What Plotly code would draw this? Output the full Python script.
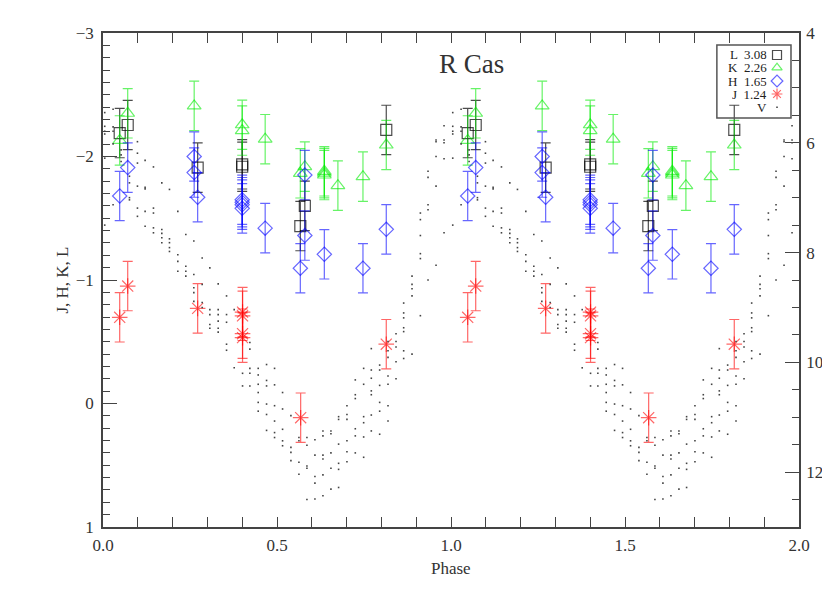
import plotly.graph_objects as go

# infrared photometry (mag), phase in [0, 1); error bars are +-0.2 mag
ERR = 0.2

L_phase = [0.048, 0.071, 0.272, 0.400, 0.400, 0.567, 0.580, 0.814]
L_mag = [-2.19, -2.255, -1.91, -1.937, -1.917, -1.437, -1.60, -2.215]

K_phase = [0.048, 0.071, 0.262, 0.400, 0.400, 0.466, 0.567, 0.580, 0.636, 0.636, 0.636, 0.675, 0.747, 0.814]
K_mag = [-2.13, -2.35, -2.41, -2.257, -2.21, -2.14, -1.864, -1.918, -1.88, -1.865, -1.85, -1.764, -1.837, -2.093]

H_phase = [0.048, 0.071, 0.262, 0.262, 0.272, 0.400, 0.400, 0.400, 0.400, 0.466, 0.567, 0.580, 0.580,
           0.636, 0.747, 0.814]
H_mag = [-1.68, -1.91, -2.00, -1.87, -1.67, -1.65, -1.63, -1.61, -1.58, -1.42, -1.095, -1.85, -1.36,
         -1.208, -1.095, -1.41]

J_phase = [0.048, 0.071, 0.272, 0.401, 0.401, 0.401, 0.401, 0.568, 0.814]
J_mag = [-0.698, -0.951, -0.77, -0.74, -0.71, -0.565, -0.533, 0.115, -0.48]

# visual light curve (V mag), read column by column
V_cols = [0.005, 0.029, 0.052, 0.076, 0.099, 0.121, 0.145, 0.169, 0.191, 0.215, 0.238, 0.261, 0.285,
          0.307, 0.331, 0.355, 0.377, 0.401, 0.422, 0.446, 0.470, 0.493, 0.516, 0.540, 0.563, 0.586,
          0.609, 0.632, 0.655, 0.677, 0.701, 0.725, 0.749, 0.771, 0.795, 0.819, 0.842, 0.864, 0.888,
          0.912, 0.934, 0.957, 0.980]
V_vals = [
    [5.45, 5.70, 5.79, 5.84, 6.28, 7.50],
    [5.39, 5.71, 5.79, 6.02, 7.13],
    [6.13, 6.22, 6.34],
    [6.61, 6.73, 7.00, 7.04],
    [5.98, 6.19, 6.37, 6.79, 7.19, 7.34],
    [6.32, 6.81, 6.84, 7.25, 7.52],
    [6.44, 7.19, 7.28, 7.55, 7.64],
    [6.73, 7.58, 7.65, 7.73, 7.82],
    [6.85, 7.75, 7.82, 7.91, 7.98],
    [7.25, 8.04, 8.16, 8.34],
    [7.67, 8.25, 8.34, 8.43],
    [7.79, 8.40, 8.64, 8.73, 8.89],
    [8.10, 8.58, 8.91, 9.00],
    [8.28, 9.04, 9.13, 9.31, 9.38],
    [8.57, 9.04, 9.13, 9.25, 9.38, 9.45],
    [8.79, 9.13, 9.27, 9.67, 9.78],
    [9.04, 10.10],
    [10.20, 10.43],
    [9.64, 9.76, 10.11, 10.20, 10.43],
    [10.11, 10.23, 10.40, 10.55, 10.73, 10.89],
    [10.04, 10.33, 10.43, 10.76, 10.95, 11.24],
    [10.11, 10.41, 10.79, 11.07, 11.28, 11.37],
    [10.55, 10.85, 11.22, 11.43, 11.52],
    [10.97, 11.55, 11.64, 11.79],
    [11.37, 11.43, 11.82, 12.04],
    [11.37, 11.51, 11.89, 11.93, 12.50],
    [11.41, 11.69, 12.08, 12.20, 12.49],
    [11.25, 11.34, 11.69, 11.76, 12.05, 12.43],
    [11.25, 11.30, 11.65, 11.93, 12.31],
    [10.99, 11.04, 11.49, 11.84, 11.95, 12.28],
    [10.79, 10.95, 11.04, 11.43, 11.63, 11.81],
    [10.32, 10.59, 10.66, 11.21, 11.34, 11.65],
    [10.11, 10.40, 10.99, 11.10, 11.36, 11.73],
    [9.75, 10.14, 10.29, 10.52, 10.59, 10.96, 11.25],
    [10.05, 10.14, 10.42, 10.73, 10.89, 11.31],
    [9.62, 9.79, 9.91, 10.25, 10.40, 10.79, 11.07],
    [9.48, 9.62, 9.72, 9.99, 10.30],
    [8.92, 9.10, 9.19, 9.37, 9.44, 9.79, 9.93],
    [8.43, 8.58, 8.66, 8.79, 9.85],
    [7.28, 7.40, 7.69, 8.02, 8.11, 9.15],
    [6.52, 6.63, 7.13, 7.22, 8.50],
    [5.95, 5.98, 6.25, 6.79, 8.23],
    [5.69, 5.95, 6.00, 6.29, 7.64],
]

legend_labels = ['L  3.08', 'K  2.26', 'H  1.65', 'J  1.24', 'V']

FONT = 'Liberation Serif'
AXC = '#444'


def two_cycles(p, m):
    return list(p) + [x + 1 for x in p], list(m) + list(m)


v_phase = []
v_mag = []
for ph, vals in zip(V_cols, V_vals):
    v_phase += [ph] * len(vals)
    v_mag += vals

fig = go.Figure()

x, y = two_cycles(v_phase, v_mag)
fig.add_trace(go.Scatter(x=x, y=y, mode='markers', yaxis='y2',
                         marker=dict(size=1.6, color='#444', symbol='square')))

bands = [
    (L_phase, L_mag, 'square-open', 'rgba(0,0,0,0.7)', 11),
    (K_phase, K_mag, 'triangle-up-open', 'rgba(0,235,0,0.6)', 12),
    (H_phase, H_mag, 'diamond-open', 'rgba(0,0,255,0.6)', 11),
    (J_phase, J_mag, 'asterisk-open', 'rgba(255,0,0,0.6)', 13),
]
for p, m, sym, col, size in bands:
    x, y = two_cycles(p, m)
    fig.add_trace(go.Scatter(
        x=x, y=y, mode='markers',
        marker=dict(symbol=sym, size=size, color=col, line=dict(color=col, width=1.2)),
        error_y=dict(type='constant', value=ERR, color=col, thickness=1.2, width=5),
    ))

# legend drawn in its own 0..1 overlay
leg_y = [0.9555, 0.9298, 0.9028, 0.8765, 0.8496]
for i, (p, m, sym, col, size) in enumerate(bands):
    fig.add_trace(go.Scatter(x=[0.9684], y=[leg_y[i]], xaxis='x2', yaxis='y3', mode='markers',
                             marker=dict(symbol=sym, size=9, color=col, line=dict(color=col, width=1.2))))
fig.add_trace(go.Scatter(x=[0.9684], y=[leg_y[4]], xaxis='x2', yaxis='y3', mode='markers',
                         marker=dict(size=1.6, color='#444', symbol='square')))
for lab, ly in zip(legend_labels, leg_y):
    fig.add_annotation(x=0.955, y=ly, xref='paper', yref='paper', text=lab, showarrow=False,
                       xanchor='right', yanchor='middle', height=11, borderpad=0,
                       font=dict(family=FONT, size=13, color='#222'))
fig.add_shape(type='rect', xref='paper', yref='paper', x0=0.882, x1=0.9885, y0=0.828, y1=0.9757,
              line=dict(color='#555', width=1.5))

fig.add_annotation(x=0.53, y=0.972, xref='paper', yref='paper', text='R&nbsp;Cas', showarrow=False,
                   font=dict(family=FONT, size=27, color='#333'))
fig.add_annotation(x=0.5, y=-0.083, xref='paper', yref='paper', text='Phase', showarrow=False,
                   yanchor='middle', font=dict(family=FONT, size=17, color='#333'))
fig.add_annotation(x=-0.076, y=0.5, xref='paper', yref='paper', text='J, H, K, L', showarrow=False,
                   textangle=-90, font=dict(family=FONT, size=17, color='#333'))

tickfont = dict(family=FONT, size=17, color='#333')
# the page body adds an 8px offset on every side; keep the figure inside the window
fig.update_layout(
    width=814, height=577, template='plotly_white', showlegend=False,
    plot_bgcolor='white', paper_bgcolor='white',
    margin=dict(l=95, r=23, t=25, b=58, autoexpand=False),
    xaxis=dict(range=[0, 2], tick0=0, dtick=0.5, tickformat='.1f', ticks='inside', ticklen=10,
               tickcolor=AXC, showline=True, linecolor=AXC, linewidth=1.5, mirror='ticks',
               showgrid=False, zeroline=False, tickfont=tickfont, ticklabelstandoff=2,
               minor=dict(dtick=0.1, ticks='inside', ticklen=10, tickcolor=AXC, showgrid=False)),
    yaxis=dict(range=[1, -3], tick0=-3, dtick=1, ticks='inside', ticklen=14, tickcolor=AXC,
               showline=True, linecolor=AXC, linewidth=1.5, showgrid=False, zeroline=False,
               tickfont=tickfont, ticklabelstandoff=4,
               minor=dict(dtick=0.1, ticks='inside', ticklen=7, tickcolor=AXC, showgrid=False)),
    yaxis2=dict(overlaying='y', side='right', range=[13, 4], tick0=4, dtick=2, ticks='inside',
                ticklen=14, tickcolor=AXC, showline=True, linecolor=AXC, linewidth=1.5,
                showgrid=False, zeroline=False, tickfont=tickfont, ticklabelstandoff=2,
                minor=dict(dtick=0.5, ticks='inside', ticklen=7, tickcolor=AXC, showgrid=False)),
    xaxis2=dict(overlaying='x', range=[0, 1], visible=False),
    yaxis3=dict(overlaying='y', range=[0, 1], visible=False),
)

fig.write_html('out.html')
